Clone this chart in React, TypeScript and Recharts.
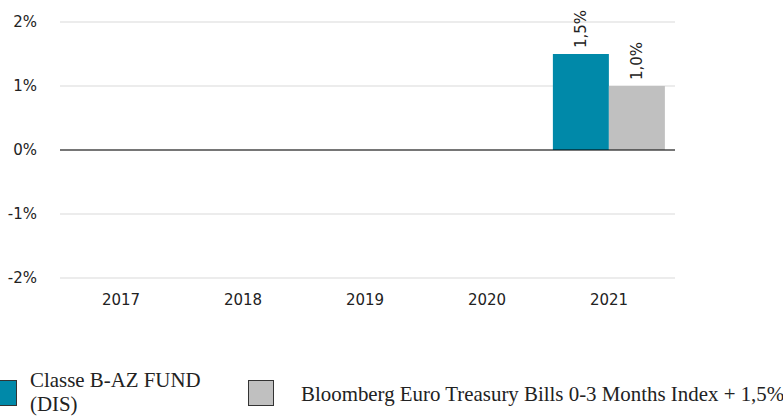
import React from 'react';
import { BarChart, Bar, XAxis, YAxis, CartesianGrid, ReferenceLine, LabelList } from 'recharts';

const years = ['2017', '2018', '2019', '2020', '2021'];
const fundValues = [null, null, null, null, 1.5];
const benchmarkValues = [null, null, null, null, 1.0];
const yTicks = [-2, -1, 0, 1, 2];

const fundName = 'Classe B-AZ FUND (DIS)';
const benchmarkName = 'Bloomberg Euro Treasury Bills 0-3 Months Index + 1,5%';

const data = years.map((year, i) => ({
  year,
  fund: fundValues[i],
  benchmark: benchmarkValues[i],
}));

const fmt = (v: number) => `${v.toFixed(1).replace('.', ',')}%`;

const RotatedLabel = (props: any) => {
  const { x, y, width, value } = props;
  if (value == null) return null;
  const cx = x + width / 2 + 5;
  const cy = y - 6;
  return (
    <text
      x={cx}
      y={cy}
      transform={`rotate(-90, ${cx}, ${cy})`}
      fontFamily="DejaVu Sans"
      fontSize={15}
      fill="#222"
      textAnchor="start"
    >
      {fmt(value)}
    </text>
  );
};

const App = () => {
  const tickStyle = { fontFamily: 'DejaVu Sans', fontSize: 15, fill: '#222' };
  const legendText = {
    position: 'absolute' as const,
    fontFamily: 'Liberation Serif',
    fontSize: 20.9,
    lineHeight: '24px',
    color: '#222',
  };
  return (
    <div style={{ position: 'fixed', left: 0, top: 0, width: 783, height: 419, overflow: 'hidden', background: '#fff' }}>
      <div style={{ position: 'absolute', left: 0, top: 0 }}>
        <BarChart
          width={700}
          height={320}
          data={data}
          margin={{ top: 22, right: 25, left: 0, bottom: 12 }}
          barCategoryGap="4%"
          barGap={0}
        >
          <CartesianGrid vertical={false} stroke="#e6e6e6" strokeWidth={1.5} />
          <XAxis
            dataKey="year"
            axisLine={false}
            tickLine={false}
            tickSize={0}
            tickMargin={16}
            height={30}
            padding={{ left: 0, right: 5 }}
            tick={tickStyle}
          />
          <YAxis
            domain={[-2, 2]}
            ticks={yTicks}
            axisLine={false}
            tickLine={false}
            tickSize={0}
            tickMargin={23}
            width={60}
            tickFormatter={(v) => `${v}%`}
            tick={tickStyle}
          />
          <ReferenceLine y={0} stroke="#000" strokeWidth={1.2} />
          <Bar dataKey="fund" fill="#0089a9" isAnimationActive={false}>
            <LabelList dataKey="fund" content={RotatedLabel} />
          </Bar>
          <Bar dataKey="benchmark" fill="#c0c0c0" isAnimationActive={false}>
            <LabelList dataKey="benchmark" content={RotatedLabel} />
          </Bar>
        </BarChart>
      </div>
      <div style={{ position: 'absolute', left: -9, top: 380, width: 26, height: 26, background: '#0089a9', border: '1px solid #333', boxSizing: 'border-box' }} />
      <div style={{ ...legendText, left: 30, top: 368, width: 195 }}>{fundName}</div>
      <div style={{ position: 'absolute', left: 248, top: 380, width: 26, height: 26, background: '#c0c0c0', border: '1px solid #333', boxSizing: 'border-box' }} />
      <div style={{ ...legendText, left: 301, top: 382, whiteSpace: 'nowrap' }}>{benchmarkName}</div>
    </div>
  );
};

export default App;
